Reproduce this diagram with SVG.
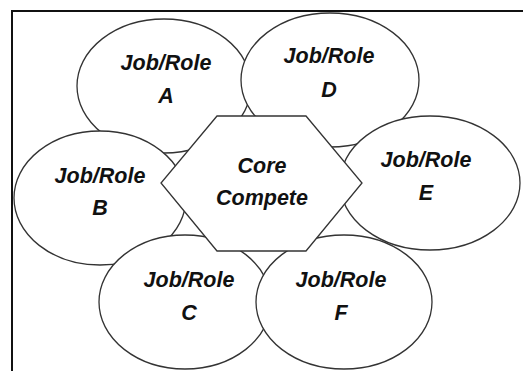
<svg xmlns="http://www.w3.org/2000/svg" width="523" height="371" viewBox="0 0 523 371">
  <style>
    .frame { fill: none; stroke: #111; stroke-width: 2; }
    .role { fill: #fff; stroke: #333; stroke-width: 1.3; }
    .core { fill: #fff; stroke: #333; stroke-width: 1.3; }
    .lbl { font-family: "Liberation Sans", Arial, sans-serif; font-size: 21.5px; font-weight: bold; font-style: italic; fill: #111; text-anchor: middle; }
  </style>
  <rect width="523" height="371" fill="#fff"/>
  <!-- page frame: only the top and left borders show -->
  <path class="frame" d="M12,371 V11 H523"/>

  <g id="connectors"></g>

  <!-- role ellipses, back to front -->
  <g id="role-a">
    <ellipse class="role" cx="164" cy="86" rx="87" ry="67"/>
    <text class="lbl" x="166" y="70">Job/Role</text>
    <text class="lbl" x="166" y="103">A</text>
  </g>
  <g id="role-d">
    <ellipse class="role" cx="330" cy="80" rx="89" ry="67"/>
    <text class="lbl" x="329" y="63">Job/Role</text>
    <text class="lbl" x="329" y="97">D</text>
  </g>
  <g id="role-e">
    <ellipse class="role" cx="430" cy="183" rx="90" ry="67"/>
    <text class="lbl" x="426" y="167">Job/Role</text>
    <text class="lbl" x="426" y="200">E</text>
  </g>
  <g id="role-b">
    <ellipse class="role" cx="100" cy="198" rx="86" ry="67"/>
    <text class="lbl" x="100" y="183">Job/Role</text>
    <text class="lbl" x="100" y="215">B</text>
  </g>
  <g id="role-c">
    <ellipse class="role" cx="185" cy="302" rx="86" ry="67"/>
    <text class="lbl" x="189" y="287">Job/Role</text>
    <text class="lbl" x="189" y="320">C</text>
  </g>
  <g id="role-f">
    <ellipse class="role" cx="344" cy="302" rx="88" ry="67"/>
    <text class="lbl" x="341" y="287">Job/Role</text>
    <text class="lbl" x="341" y="320">F</text>
  </g>

  <!-- central hexagon -->
  <g id="core-compete">
    <polygon class="core" points="217,116 306,116 362,183 306,251 217,251 161,183"/>
    <text class="lbl" x="262" y="173">Core</text>
    <text class="lbl" x="262" y="205">Compete</text>
  </g>
</svg>
